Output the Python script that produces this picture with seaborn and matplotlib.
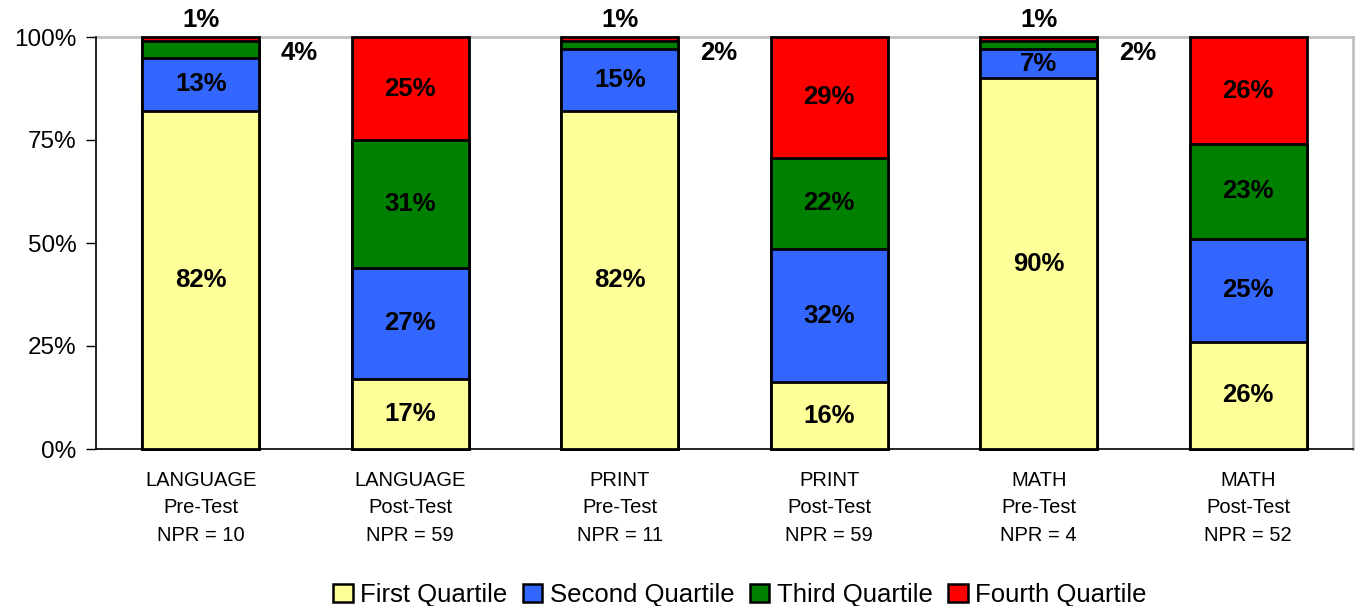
import numpy as np
import pandas as pd
import matplotlib
matplotlib.use("Agg")
import matplotlib.pyplot as plt
import seaborn as sns
from matplotlib.patches import Patch

# Quartile distribution per test (percent of children)
groups = ["LANGUAGE\nPre-Test\nNPR = 10", "LANGUAGE\nPost-Test\nNPR = 59",
          "PRINT\nPre-Test\nNPR = 11", "PRINT\nPost-Test\nNPR = 59",
          "MATH\nPre-Test\nNPR = 4", "MATH\nPost-Test\nNPR = 52"]
quartiles = ["First Quartile", "Second Quartile", "Third Quartile", "Fourth Quartile"]
first_q = [82, 17, 82, 16, 90, 26]
second_q = [13, 27, 15, 32, 7, 25]
third_q = [4, 31, 2, 22, 2, 23]
fourth_q = [1, 25, 1, 29, 1, 26]
colors = ["#FFFF99", "#3366FF", "#008000", "#FF0000"]

sns.set_theme(style="white")
plt.rcParams["font.family"] = ["Liberation Sans", "DejaVu Sans"]
plt.rcParams["text.color"] = "black"
plt.rcParams["xtick.color"] = "black"
plt.rcParams["ytick.color"] = "black"
plt.rcParams["axes.labelcolor"] = "black"

vals = np.array([first_q, second_q, third_q, fourth_q], dtype=float)
totals = vals.sum(axis=0)
shares = vals / totals * 100          # 100% stacked
cum = np.cumsum(shares, axis=0)

fig = plt.figure(figsize=(13.56, 6.06), dpi=100)
ax = fig.add_axes([96 / 1356, 1 - 449 / 606, (1353 - 96) / 1356, (449 - 37) / 606])

# Draw the stack from the top layer down so each lower layer overlays the one above
for k in range(3, -1, -1):
    df = pd.DataFrame({"group": groups, "value": cum[k]})
    sns.barplot(data=df, x="group", y="value", order=groups, color=colors[k],
                saturation=1, width=0.557, edgecolor="black", linewidth=2.0,
                ax=ax, errorbar=None)
for p in ax.patches:
    p.set_clip_on(False)
    p.set_zorder(3)

# Segment labels
for i in range(len(groups)):
    for k in range(4):
        v = vals[k, i]
        lo = cum[k - 1, i] if k > 0 else 0
        mid = lo + shares[k, i] / 2
        txt = f"{int(v)}%"
        if shares[k, i] >= 6:
            ax.text(i, mid, txt, ha="center", va="center", fontsize=18.5,
                    fontweight="bold", zorder=4)
        elif k == 3:
            ax.text(i, 104.2, txt, ha="center", va="center", fontsize=18.5,
                    fontweight="bold", clip_on=False, zorder=4)
        else:
            ax.text(i + 0.47, 96, txt, ha="center", va="center", fontsize=18.5,
                    fontweight="bold", zorder=4)

ax.set_xlim(-0.5, 5.5)
ax.set_ylim(0, 100)
ax.set_yticks([0, 25, 50, 75, 100])
ax.set_yticklabels(["0%", "25%", "50%", "75%", "100%"], fontsize=17.5)
ax.set_xlabel("")
ax.set_ylabel("")
ax.tick_params(axis="y", length=7, width=1, color="black", left=True, pad=7)
ax.tick_params(axis="x", length=0, pad=16, labelsize=14.5)
for lab in ax.get_xticklabels():
    lab.set_linespacing(1.55)

for side in ["left", "bottom"]:
    ax.spines[side].set_color("black")
    ax.spines[side].set_linewidth(1.2)
for side in ["top", "right"]:
    ax.spines[side].set_color("#C0C0C0")
    ax.spines[side].set_linewidth(2)
    ax.spines[side].set_zorder(1)

handles = [Patch(facecolor=c, edgecolor="black", linewidth=1.8) for c in colors]
fig.legend(handles, quartiles, loc="center", bbox_to_anchor=(740 / 1356, 1 - 595 / 606),
           ncol=4, frameon=False, fontsize=18.5, handlelength=0.75, handleheight=0.75,
           handletextpad=0.3, columnspacing=0.6)

fig.savefig("out.png", dpi=100)
